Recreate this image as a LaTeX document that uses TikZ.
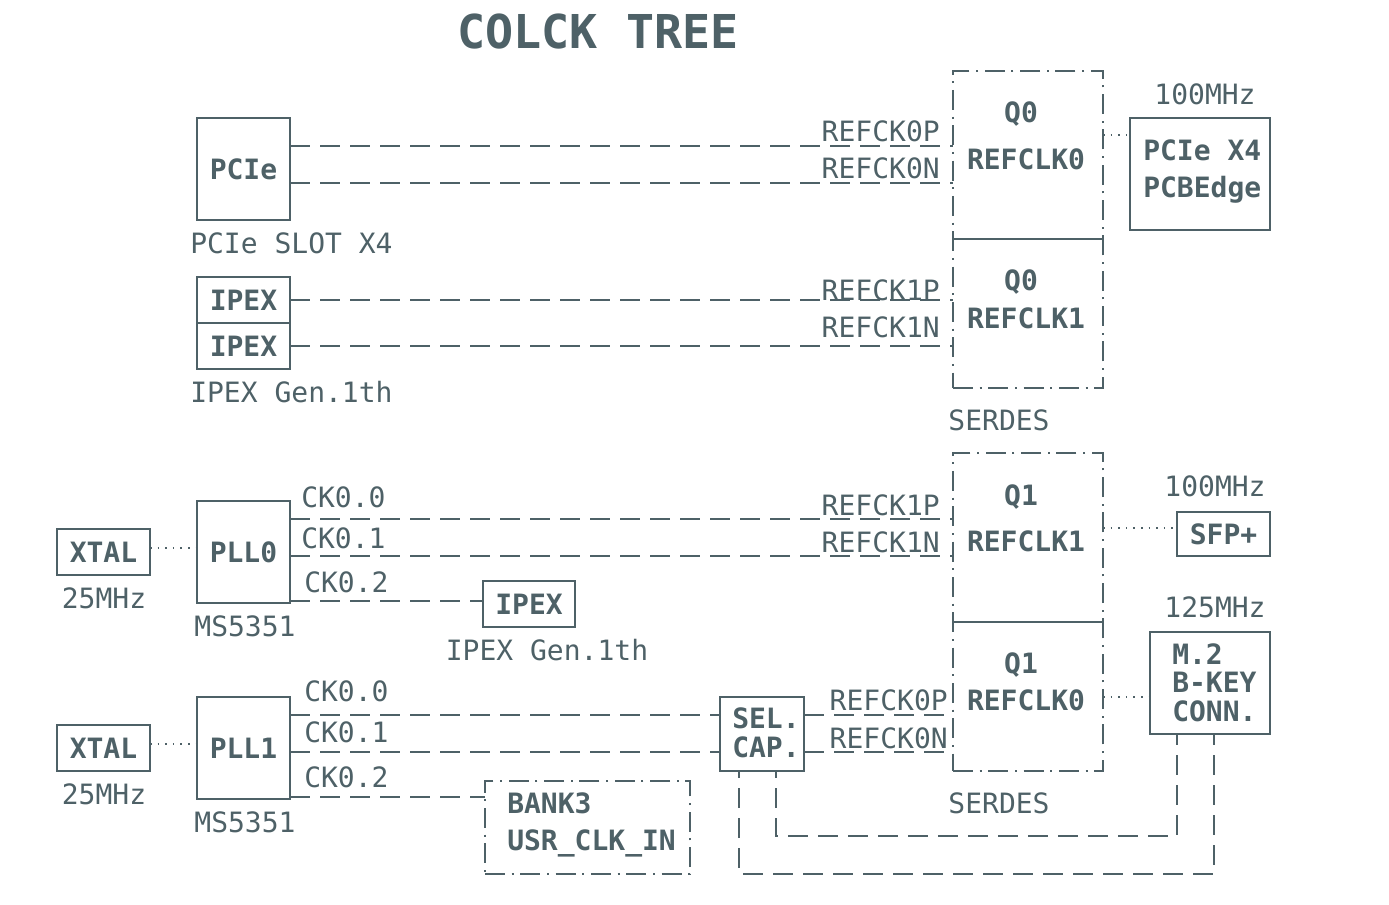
\documentclass[tikz,border=0pt]{standalone}
\usepackage{fontspec}
\setmonofont{DejaVu Sans Mono}
\usepackage{xcolor}
\usepackage{tikz}
\definecolor{ink}{HTML}{4E6167}
\tikzset{
  lbl/.style={text=ink, inner sep=0pt, text height=15.3pt, text depth=0pt, font=\fontsize{21}{25}\selectfont\ttfamily},
  bold/.style={lbl, font=\fontsize{21}{25}\selectfont\ttfamily\bfseries},
  title/.style={text=ink, inner sep=0pt, font=\fontsize{35}{40}\selectfont\ttfamily\bfseries},
  box/.style 2 args={draw=ink, line width=1.5pt, inner sep=0pt, outer sep=0pt, minimum width=#1*0.75pt, minimum height=#2*0.75pt, text=ink, font=\fontsize{21}{25}\selectfont\ttfamily\bfseries},
  dbox/.style 2 args={box={#1}{#2}, dash pattern=on 15pt off 5pt on 1.5pt off 5pt},
  frame/.style={draw=ink, line width=1.5pt},
  sig/.style={draw=ink, line width=1.5pt, dash pattern=on 15pt off 7.5pt},
  tie/.style={draw=ink, line width=1.3pt, dash pattern=on 1.2pt off 4.5pt}
}
\begin{document}
\begin{tikzpicture}[x=0.75pt,y=0.75pt,yscale=-1,xscale=1]
    \useasboundingbox (0,0) rectangle (1389,905);
    \node[title] (ttl) at (598,32) {COLCK TREE};

    % PCIe slot and IPEX inputs
    \node[box={93}{102}] (pcie) at (243.5,169) {PCIe};
    \node[lbl, anchor=west] (pcienm) at (190,243) {PCIe SLOT X4};
    \node[box={93}{46}] (ipexa) at (243.5,300) {IPEX};
    \node[box={93}{46}] (ipexb) at (243.5,346) {IPEX};
    \node[lbl, anchor=west] (ipexnm) at (190,392) {IPEX Gen.1th};

    % SERDES Q0
    \node[dbox={150}{317}] (sera) at (1028,229.5) {};
    \draw[frame] (sera.west |- 0,239) -- (sera.east |- 0,239);
    \node[bold] (qa) at (1021,112) {Q0};
    \node[bold] (clka) at (1026,159) {REFCLK0};
    \node[bold] (qb) at (1021,280) {Q0};
    \node[bold] (clkb) at (1026,318) {REFCLK1};
    \node[lbl] (sernma) at (999,420) {SERDES};

    \draw[sig] (pcie.east |- 0,146) -- (sera.west |- 0,146);
    \draw[sig] (pcie.east |- 0,183) -- (sera.west |- 0,183);
    \draw[sig] (ipexa.east) -- (sera.west |- ipexa.east);
    \draw[sig] (ipexb.east) -- (sera.west |- ipexb.east);
    \node[lbl, anchor=east] (rcka) at (940,131) {REFCK0P};
    \node[lbl, anchor=east] (rckb) at (940,168) {REFCK0N};
    \node[lbl, anchor=east] (rckc) at (940,290) {REFCK1P};
    \node[lbl, anchor=east] (rckd) at (940,327) {REFCK1N};

    \node[box={140}{112}] (edge) at (1200,174) {};
    \node[bold, anchor=west] (edgea) at (1143,150) {PCIe X4};
    \node[bold, anchor=west] (edgeb) at (1143,187) {PCBEdge};
    \node[lbl] (fqa) at (1205,94) {100MHz};
    \draw[tie] (sera.east |- 0,135) -- (edge.west |- 0,135);

    % SERDES Q1
    \node[dbox={150}{318}] (serb) at (1028,612) {};
    \draw[frame] (serb.west |- 0,622) -- (serb.east |- 0,622);
    \node[bold] (qc) at (1021,495) {Q1};
    \node[bold] (clkc) at (1026,541) {REFCLK1};
    \node[bold] (qd) at (1021,663) {Q1};
    \node[bold] (clkd) at (1026,700) {REFCLK0};
    \node[lbl] (sernmb) at (999,803) {SERDES};

    \node[box={93}{44}] (sfp) at (1223.5,534) {SFP+};
    \node[lbl] (fqb) at (1215,486) {100MHz};
    \draw[tie] (serb.east |- 0,528) -- (sfp.west |- 0,528);

    \node[box={120}{102}] (mtwo) at (1210,683) {};
    \node[bold, anchor=west] (mtwoa) at (1172,654) {M.2};
    \node[bold, anchor=west] (mtwob) at (1172,682) {B-KEY};
    \node[bold, anchor=west] (mtwoc) at (1172,711) {CONN.};
    \node[lbl] (fqc) at (1215,607) {125MHz};
    \draw[tie] (serb.east |- 0,697) -- (mtwo.west |- 0,697);

    % PLL0
    \node[box={93}{46}] (xtala) at (103.5,552) {XTAL};
    \node[lbl] (xfqa) at (104,598) {25MHz};
    \node[box={93}{102}] (plla) at (243.5,552) {PLL0};
    \node[lbl] (pllnma) at (245,626) {MS5351};
    \draw[tie] (xtala.east |- 0,548) -- (plla.west |- 0,548);
    \node[box={92}{46}] (ipexc) at (529,604) {IPEX};
    \node[lbl] (ipexnmc) at (547,650) {IPEX Gen.1th};

    \draw[sig] (plla.east |- 0,519) -- (serb.west |- 0,519);
    \draw[sig] (plla.east |- 0,556) -- (serb.west |- 0,556);
    \draw[sig] (plla.east |- 0,601) -- (ipexc.west |- 0,601);
    \node[lbl, anchor=west] (cka) at (301,497) {CK0.0};
    \node[lbl, anchor=west] (ckb) at (301,538) {CK0.1};
    \node[lbl, anchor=west] (ckc) at (304,582) {CK0.2};
    \node[lbl, anchor=east] (rcke) at (940,505) {REFCK1P};
    \node[lbl, anchor=east] (rckf) at (940,542) {REFCK1N};

    % PLL1
    \node[box={93}{46}] (xtalb) at (103.5,748) {XTAL};
    \node[lbl] (xfqb) at (104,794) {25MHz};
    \node[box={93}{102}] (pllb) at (243.5,748) {PLL1};
    \node[lbl] (pllnmb) at (245,822) {MS5351};
    \draw[tie] (xtalb.east |- 0,744) -- (pllb.west |- 0,744);

    \node[box={84}{74}] (sel) at (762,734) {};
    \node[bold, anchor=west] (sela) at (732,718) {SEL.};
    \node[bold, anchor=west] (selb) at (732,747) {CAP.};
    \node[dbox={205}{93}] (bank) at (587.5,827.5) {};
    \node[bold, anchor=west] (banka) at (507,803) {BANK3};
    \node[bold, anchor=west] (bankb) at (507,840) {USR\_CLK\_IN};

    \draw[sig] (pllb.east |- 0,715) -- (sel.west |- 0,715);
    \draw[sig] (pllb.east |- 0,752) -- (sel.west |- 0,752);
    \draw[sig] (pllb.east |- 0,797) -- (bank.west |- 0,797);
    \node[lbl, anchor=west] (ckd) at (304,691) {CK0.0};
    \node[lbl, anchor=west] (cke) at (304,732) {CK0.1};
    \node[lbl, anchor=west] (ckf) at (304,777) {CK0.2};

    \draw[sig] (sel.east |- 0,715) -- (serb.west |- 0,715);
    \draw[sig] (sel.east |- 0,752) -- (serb.west |- 0,752);
    \node[lbl, anchor=east] (rckg) at (948,700) {REFCK0P};
    \node[lbl, anchor=east] (rckh) at (948,738) {REFCK0N};

    \draw[sig, dash phase=9.5pt] (sel.south -| 776,0) -- ++(0,65) -| (mtwo.south -| 1177,0);
    \draw[sig, dash phase=9.5pt] (sel.south -| 739,0) -- ++(0,103) -| (mtwo.south -| 1214,0);
\end{tikzpicture}
\end{document}
